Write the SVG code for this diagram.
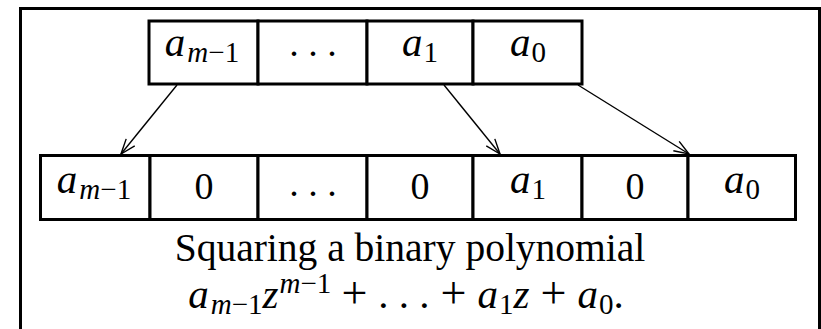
<svg xmlns="http://www.w3.org/2000/svg" width="821" height="329" viewBox="0 0 821 329">
<defs>
<style>
.frame{fill:none;stroke:#000;stroke-width:3}
.box{fill:#fff;stroke:#000;stroke-width:3}
.t{font-family:"Liberation Serif","Times New Roman",serif;font-size:41px;fill:#000}
.c{font-size:39.5px}
.d{font-size:38px}
.p{font-size:46px}
.i{font-style:italic}
.s{font-size:29px}
.conn{stroke:#000;stroke-width:1.4;fill:none}
</style>
<marker id="arr" viewBox="-16 -8 18 16" refX="0" refY="0" markerWidth="18" markerHeight="16" markerUnits="userSpaceOnUse" orient="auto">
<path d="M-15,-5.5 L0,0 L-15,5.5" fill="none" stroke="#000" stroke-width="1.4"/>
</marker>
</defs>
<rect width="821" height="329" fill="#fff"/>
<rect class="frame" x="20.5" y="8.5" width="799" height="340"/>

<g id="top-row">
<g id="top-am1"><rect class="box" x="149" y="21" width="109" height="63"/>
<text class="t" x="202" y="56" text-anchor="middle"><tspan class="i">a</tspan><tspan class="s i" dx="2" dy="6">m</tspan><tspan class="s">−1</tspan></text></g>
<g id="top-dots"><rect class="box" x="258" y="21" width="109" height="63"/>
<text class="t d" x="313" y="56" text-anchor="middle">. . .</text></g>
<g id="top-a1"><rect class="box" x="367" y="21" width="106" height="63"/>
<text class="t" x="420" y="56" text-anchor="middle"><tspan class="i">a</tspan><tspan class="s" dx="1" dy="6">1</tspan></text></g>
<g id="top-a0"><rect class="box" x="473" y="21" width="109" height="63"/>
<text class="t" x="528" y="56" text-anchor="middle"><tspan class="i">a</tspan><tspan class="s" dx="1" dy="6">0</tspan></text></g>
</g>

<g id="bottom-row">
<g id="bot-am1"><rect class="box" x="40.5" y="155.5" width="109.5" height="64"/>
<text class="t" x="94" y="193" text-anchor="middle"><tspan class="i">a</tspan><tspan class="s i" dx="2" dy="6">m</tspan><tspan class="s">−1</tspan></text></g>
<g id="bot-0a"><rect class="box" x="150" y="155.5" width="108" height="64"/>
<text class="t d" x="204" y="199" text-anchor="middle">0</text></g>
<g id="bot-dots"><rect class="box" x="258" y="155.5" width="109" height="64"/>
<text class="t d" x="313" y="196" text-anchor="middle">. . .</text></g>
<g id="bot-0b"><rect class="box" x="367" y="155.5" width="106" height="64"/>
<text class="t d" x="420" y="199" text-anchor="middle">0</text></g>
<g id="bot-a1"><rect class="box" x="473" y="155.5" width="109" height="64"/>
<text class="t" x="528" y="193" text-anchor="middle"><tspan class="i">a</tspan><tspan class="s" dx="1" dy="6">1</tspan></text></g>
<g id="bot-0c"><rect class="box" x="582" y="155.5" width="106" height="64"/>
<text class="t d" x="635" y="199" text-anchor="middle">0</text></g>
<g id="bot-a0"><rect class="box" x="688" y="155.5" width="107.5" height="64"/>
<text class="t" x="742" y="193" text-anchor="middle"><tspan class="i">a</tspan><tspan class="s" dx="1" dy="6">0</tspan></text></g>
</g>

<g id="connectors">
<line class="conn" x1="177" y1="85" x2="121" y2="154" marker-end="url(#arr)"/>
<line class="conn" x1="444" y1="85" x2="500" y2="154" marker-end="url(#arr)"/>
<line class="conn" x1="578" y1="85" x2="689" y2="154" marker-end="url(#arr)"/>
</g>

<g id="caption">
<text class="t c" x="410" y="261" text-anchor="middle">Squaring a binary polynomial</text>
<text class="t" x="406" y="308" text-anchor="middle"><tspan class="i">a</tspan><tspan class="s i" dx="2" dy="6">m</tspan><tspan class="s">−1</tspan><tspan class="i" dy="-6">z</tspan><tspan class="s i" dx="1" dy="-15">m</tspan><tspan class="s">−1</tspan><tspan class="p" dx="10" dy="15">+</tspan><tspan dx="11">. . .</tspan><tspan class="p" dx="11">+</tspan><tspan class="i" dx="11">a</tspan><tspan class="s" dx="1" dy="6">1</tspan><tspan class="i" dy="-6">z</tspan><tspan class="p" dx="11">+</tspan><tspan class="i" dx="11">a</tspan><tspan class="s" dx="1" dy="6">0</tspan><tspan dy="-6">.</tspan></text>
</g>
</svg>
